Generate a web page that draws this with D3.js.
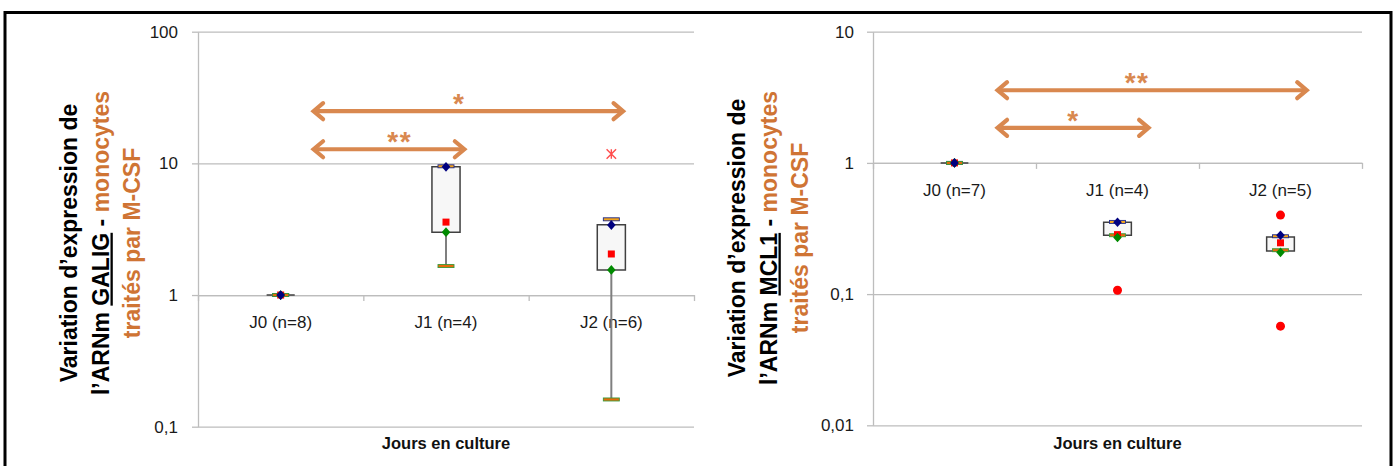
<!DOCTYPE html>
<html>
<head>
<meta charset="utf-8">
<script src="https://cdn.jsdelivr.net/npm/d3@7"></script>
<style>
  html, body { margin: 0; padding: 0; background: #fff; }
  svg { display: block; font-family: "Liberation Sans", Arial, sans-serif; }
</style>
</head>
<body>
<svg id="chart" width="1397" height="466"></svg>
<script>
// ---------------- DATA ----------------
// Panel 1 : GALIG
const galigCategories = ["J0 (n=8)", "J1 (n=4)", "J2 (n=6)"];
const galigTicks = [0.1, 1, 10, 100];
const galigTickLabels = ["0,1", "1", "10", "100"];
const galigQ1 = [1, 3.0, 1.55];
const galigQ3 = [1, 9.42, 3.42];
const galigMin = [1, 1.66, 0.161];
const galigMax = [1, 9.5, 3.76];
const galigMean = [1, 3.58, 2.05];
const galigGreen = [1, 3.0, 1.55];
const galigBlue = [1, 9.42, 3.4];
const galigOutliers = [[], [], [11.8]];
// significance arrows: start / end as category positions, level in data units
const galigSigFrom = [0.19, 0.19];
const galigSigTo = [1.12, 2.08];
const galigSigLevel = [12.8, 24.9];
const galigSigLabel = ["**", "*"];
const galigSigLabelPos = [0.72, 1.08];

// Panel 2 : MCL1
const mcl1Categories = ["J0 (n=7)", "J1 (n=4)", "J2 (n=5)"];
const mcl1Ticks = [0.01, 0.1, 1, 10];
const mcl1TickLabels = ["0,01", "0,1", "1", "10"];
const mcl1Q1 = [1, 0.281, 0.213];
const mcl1Q3 = [1, 0.353, 0.272];
const mcl1Min = [1, 0.281, 0.216];
const mcl1Max = [1, 0.355, 0.276];
const mcl1Mean = [1, 0.284, 0.246];
const mcl1Green = [1, 0.27, 0.208];
const mcl1Blue = [1, 0.353, 0.281];
const mcl1Outliers = [[], [0.107], [0.40, 0.057]];
const mcl1SigFrom = [0.255, 0.255];
const mcl1SigTo = [1.2, 2.17];
const mcl1SigLevel = [1.85, 3.58];
const mcl1SigLabel = ["*", "**"];
const mcl1SigLabelPos = [0.73, 1.12];

// ---------------- STYLE ----------------
const ORANGE_TXT = "#CF7434";
const ORANGE_ARW = "#D9884F";
const GRID = "#BDBDBD";

const svg = d3.select("#chart");

// outer frame
svg.append("rect").attr("x", 5).attr("y", 12.5).attr("width", 1386).attr("height", 470)
  .attr("fill", "none").attr("stroke", "#000").attr("stroke-width", 3);

const diamondType = {
  draw(ctx, size) {
    const w = Math.sqrt(size) * 0.62, h = Math.sqrt(size) * 0.7;
    ctx.moveTo(0, -h); ctx.lineTo(w, 0); ctx.lineTo(0, h); ctx.lineTo(-w, 0); ctx.closePath();
  }
};
const starType = {
  draw(ctx, size) {
    const r = Math.sqrt(size) / 2;
    ctx.moveTo(-r, -r); ctx.lineTo(r, r);
    ctx.moveTo(-r, r); ctx.lineTo(r, -r);
    ctx.moveTo(0, -r); ctx.lineTo(0, r);
  }
};

const panels = [
  {
    x0: 198, x1: 694, yTop: 31.7, yBot: 426.7, titleX: 69, titleY: 243,
    cats: galigCategories, ticks: galigTicks, tickLabels: galigTickLabels,
    q1: galigQ1, q3: galigQ3, min: galigMin, max: galigMax, mean: galigMean,
    green: galigGreen, blue: galigBlue, outliers: galigOutliers, outlierShape: "star",
    sigFrom: galigSigFrom, sigTo: galigSigTo, sigLevel: galigSigLevel, sigLabel: galigSigLabel, sigLabelPos: galigSigLabelPos,
    gene: "GALIG", tickPad: 14
  },
  {
    x0: 873, x1: 1362, yTop: 31.7, yBot: 425.3, titleX: 737, titleY: 238,
    cats: mcl1Categories, ticks: mcl1Ticks, tickLabels: mcl1TickLabels,
    q1: mcl1Q1, q3: mcl1Q3, min: mcl1Min, max: mcl1Max, mean: mcl1Mean,
    green: mcl1Green, blue: mcl1Blue, outliers: mcl1Outliers, outlierShape: "circle",
    sigFrom: mcl1SigFrom, sigTo: mcl1SigTo, sigLevel: mcl1SigLevel, sigLabel: mcl1SigLabel, sigLabelPos: mcl1SigLabelPos,
    gene: "MCL1", tickPad: 13
  }
];

panels.forEach(p => {
  const g = svg.append("g");
  const n = p.cats.length;
  const y = d3.scaleLog().domain([p.ticks[0], p.ticks[p.ticks.length - 1]]).range([p.yBot, p.yTop]);
  const xb = d3.scaleBand().domain(p.cats).range([p.x0, p.x1]).paddingInner(0.83).paddingOuter(0.415);
  const xi = d3.scaleLinear().domain([-0.5, n - 0.5]).range([p.x0, p.x1]);
  const bw = xb.bandwidth();

  // gridlines
  g.append("g").attr("transform", `translate(${p.x0},0)`)
    .call(d3.axisLeft(y).tickValues(p.ticks).tickSize(-(p.x1 - p.x0)).tickFormat(""))
    .call(a => a.select(".domain").remove())
    .call(a => a.selectAll(".tick line").attr("stroke", GRID).attr("stroke-width", 1.3));

  // y axis with labels
  g.append("g").attr("transform", `translate(${p.x0},0)`)
    .call(d3.axisLeft(y).tickValues(p.ticks).tickFormat((d, i) => p.tickLabels[i])
      .tickSize(6).tickSizeOuter(0).tickPadding(p.tickPad))
    .call(a => a.select(".domain").attr("stroke", GRID).attr("stroke-width", 1.3))
    .call(a => a.selectAll(".tick line").attr("stroke", GRID).attr("stroke-width", 1.3))
    .call(a => a.selectAll(".tick text").attr("font-size", 17).attr("fill", "#1a1a1a")
      .attr("font-family", "'Liberation Sans', Arial, sans-serif"));

  // x axis at y = 1 (category boundaries)
  g.append("g").attr("transform", `translate(0,${y(1)})`)
    .call(d3.axisBottom(xi).tickValues(d3.range(-0.5, n, 1)).tickSize(6).tickSizeOuter(0).tickFormat(""))
    .call(a => a.select(".domain").attr("stroke", GRID).attr("stroke-width", 1.3))
    .call(a => a.selectAll(".tick line").attr("stroke", GRID).attr("stroke-width", 1.3));

  // category labels
  g.selectAll(".cat").data(p.cats).join("text")
    .attr("x", d => xb(d) + bw / 2).attr("y", y(1) + 33)
    .attr("text-anchor", "middle").attr("font-size", 17).attr("fill", "#1a1a1a").text(d => d);

  // x title
  g.append("text").attr("x", (p.x0 + p.x1) / 2).attr("y", 449)
    .attr("text-anchor", "middle").attr("font-size", 16.5).attr("font-weight", "bold").attr("fill", "#111")
    .text("Jours en culture");

  // y title (three lines)
  const yt = g.append("g").attr("transform", `translate(${p.titleX + 8},${p.titleY}) rotate(-90)`);
  const fs = 23;
  const t1 = yt.append("text").attr("x", 0).attr("y", 0).attr("text-anchor", "middle")
    .attr("font-size", fs).attr("font-weight", "bold").attr("fill", "#000");
  t1.text("Variation d’expression de");
  const t2 = yt.append("text").attr("x", 0).attr("y", 31.5).attr("text-anchor", "middle")
    .attr("font-size", fs).attr("font-weight", "bold").attr("fill", "#000");
  t2.append("tspan").text("l’ARNm ");
  t2.append("tspan").attr("text-decoration", "underline").text(p.gene);
  t2.append("tspan").text(" - ");
  t2.append("tspan").attr("fill", ORANGE_TXT).text("monocytes");
  yt.append("text").attr("x", 0).attr("y", 63).attr("text-anchor", "middle")
    .attr("font-size", fs).attr("font-weight", "bold").attr("fill", ORANGE_TXT)
    .text("traités par M-CSF");

  // box plots
  p.cats.forEach((c, i) => {
    const cx = xb(c) + bw / 2;
    // whisker
    g.append("line").attr("x1", cx).attr("x2", cx).attr("y1", y(p.min[i])).attr("y2", y(p.max[i]))
      .attr("stroke", "#7f7f7f").attr("stroke-width", 2);
    // box
    const bx0 = xb(c), bx1 = xb(c) + bw, by0 = y(p.q3[i]), by1 = y(p.q1[i]);
    g.append("path").attr("d", `M${bx0},${by0}H${bx1}V${by1}H${bx0}Z`)
      .attr("fill", "#F7F7F7").attr("stroke", "#404040").attr("stroke-width", 1.5);
    // caps
    g.append("rect").attr("x", cx - 8).attr("y", y(p.max[i]) - 1.5).attr("width", 16).attr("height", 3)
      .attr("fill", "#F2A31B").attr("stroke", "#1F2A8A").attr("stroke-width", 0.9);
    g.append("rect").attr("x", cx - 8).attr("y", y(p.min[i]) - 1.5).attr("width", 16).attr("height", 3)
      .attr("fill", "#E46C0A").attr("stroke", "#3A9A3A").attr("stroke-width", 0.9);
    // mean
    g.append("rect").attr("x", cx - 3.5).attr("y", y(p.mean[i]) - 3.5).attr("width", 7).attr("height", 7)
      .attr("fill", "#FF0000");
    // green diamond
    g.append("path").attr("transform", `translate(${cx},${y(p.green[i])})`)
      .attr("d", d3.symbol(diamondType, 48)()).attr("fill", "#008A00");
    // blue diamond
    g.append("path").attr("transform", `translate(${cx},${y(p.blue[i])})`)
      .attr("d", d3.symbol(diamondType, 48)()).attr("fill", "#00007F");
    // outliers
    p.outliers[i].forEach(v => {
      if (p.outlierShape === "circle") {
        g.append("circle").attr("cx", cx).attr("cy", y(v)).attr("r", 4.5).attr("fill", "#FF0000");
      } else {
        g.append("path").attr("transform", `translate(${cx},${y(v)})`)
          .attr("d", d3.symbol(starType, 90)()).attr("fill", "none")
          .attr("stroke", "#FF4D4D").attr("stroke-width", 1.4);
      }
    });
  });

  // significance arrows
  p.sigLevel.forEach((lv, k) => {
    const xs = xi(p.sigFrom[k]), xe = xi(p.sigTo[k]), yy = y(lv);
    const ag = g.append("g").attr("stroke", ORANGE_ARW).attr("stroke-width", 4.2).attr("fill", "none");
    ag.append("line").attr("x1", xs + 2).attr("x2", xe - 2).attr("y1", yy).attr("y2", yy);
    ag.append("path").attr("d", `M${xs + 11},${yy - 8}L${xs + 1.5},${yy}L${xs + 11},${yy + 8}`)
      .attr("stroke-linejoin", "miter").attr("stroke-linecap", "round");
    ag.append("path").attr("d", `M${xe - 11},${yy - 8}L${xe - 1.5},${yy}L${xe - 11},${yy + 8}`)
      .attr("stroke-linejoin", "miter").attr("stroke-linecap", "round");
    g.append("text").attr("x", xi(p.sigLabelPos[k])).attr("y", yy + 2)
      .attr("text-anchor", "middle").attr("font-size", 28).attr("font-weight", "bold")
      .attr("letter-spacing", 1.5)
      .attr("fill", ORANGE_ARW).text(p.sigLabel[k]);
  });
});
</script>
</body>
</html>
